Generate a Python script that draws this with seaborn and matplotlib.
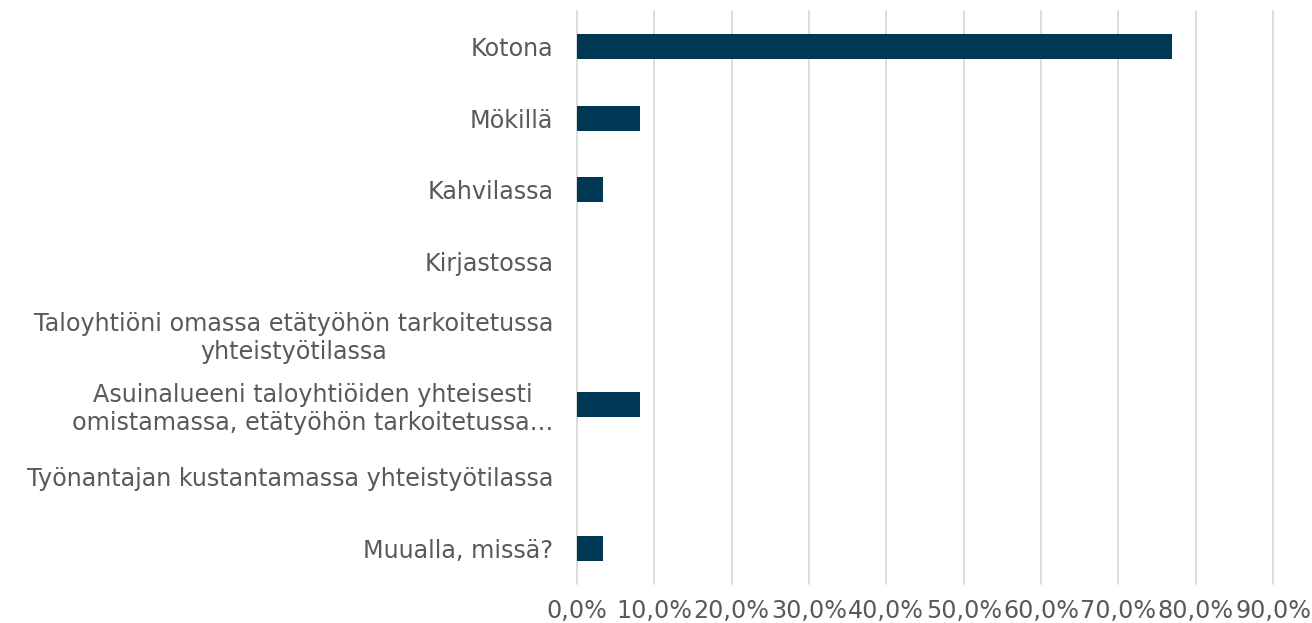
import pandas as pd
import seaborn as sns
from matplotlib import pyplot as plt
from matplotlib.ticker import FuncFormatter

sns.set_theme(style='white')
plt.rcParams['font.family'] = ['DejaVu Sans']

# 数据
categories = [
    'Kotona',
    'Mökillä',
    'Kahvilassa',
    'Kirjastossa',
    'Taloyhtiöni omassa etätyöhön tarkoitetussa\nyhteistyötilassa',
    'Asuinalueeni taloyhtiöiden yhteisesti\nomistamassa, etätyöhön tarkoitetussa…',
    'Työnantajan kustantamassa yhteistyötilassa',
    'Muualla, missä?',
]
shares = [0.770, 0.082, 0.033, 0.0, 0.0, 0.082, 0.0, 0.033]

df = pd.DataFrame({'paikka': categories, 'osuus': shares})

fig = plt.figure(figsize=(13.12, 6.23), dpi=100)
ax = fig.add_axes([0.4398, 0.0626, 0.5305, 0.92])

sns.barplot(data=df, x='osuus', y='paikka', color='#003755', width=0.35,
            saturation=1, linewidth=0, ax=ax, zorder=3)

ax.set_xlim(0, 0.9)
ax.set_xticks([i / 10 for i in range(10)])
ax.xaxis.set_major_formatter(FuncFormatter(lambda v, _: f'{v*100:.1f}%'.replace('.', ',')))
ax.grid(axis='x', color='#d9d9d9', linewidth=1.3, zorder=0)
ax.grid(axis='y', visible=False)
ax.set_axisbelow(True)
for gl in ax.get_xgridlines():
    gl.set_clip_on(False)
for s in ax.spines.values():
    s.set_visible(False)

ax.set_xlabel('')
ax.set_ylabel('')
ax.tick_params(axis='both', length=0, labelsize=17.2, labelcolor='#595959')
ax.tick_params(axis='x', pad=11)
ax.tick_params(axis='y', pad=17)
for lab in ax.get_yticklabels():
    lab.set_multialignment('center')

plt.savefig('out.png', dpi=100)
